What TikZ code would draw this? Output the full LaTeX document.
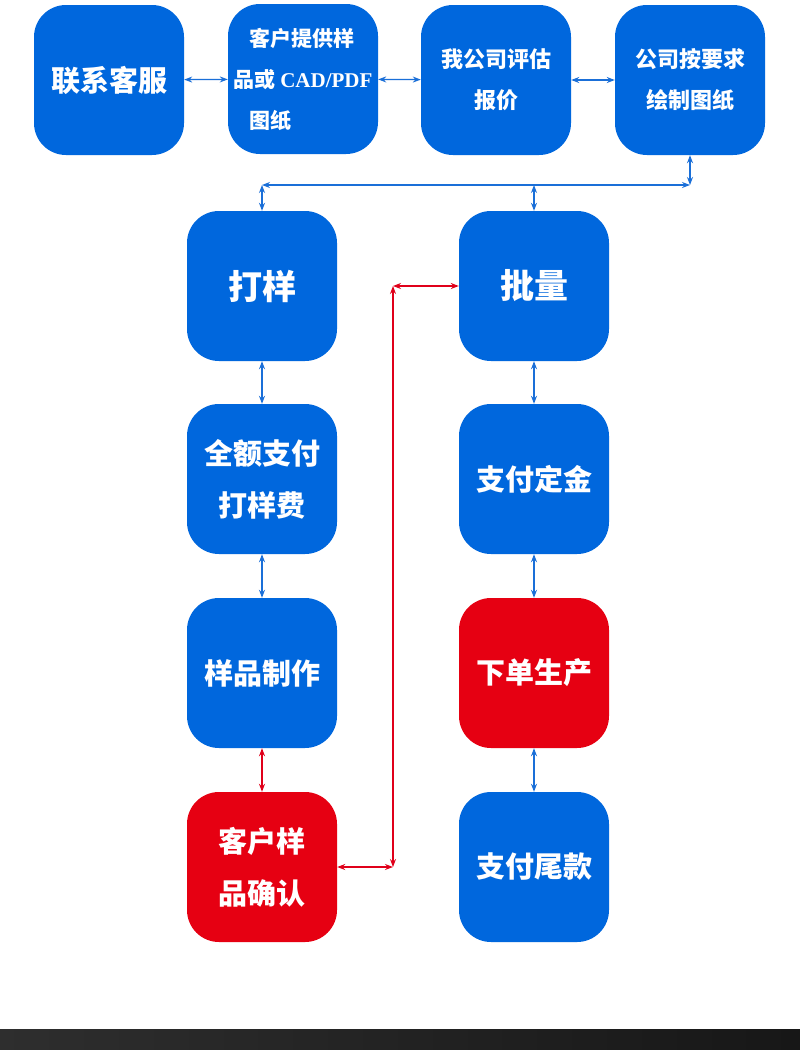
\documentclass[tikz,border=0pt]{standalone}
\usepackage{fontspec}
\newfontfamily\cjk{Noto Sans CJK SC}
\newfontfamily\latinserif{Liberation Serif}
\usetikzlibrary{arrows.meta}
\definecolor{procblue}{HTML}{0067DD}
\definecolor{procred}{HTML}{E60012}
\definecolor{linkblue}{HTML}{1A6FD8}
\definecolor{linkred}{HTML}{E0001A}
\tikzset{
	stepbox/.style={fill=procblue, rounded corners=32pt, minimum width=150pt, minimum height=150pt, inner sep=0pt, text=white, font=\cjk\bfseries, align=center},
	hotbox/.style={stepbox, fill=procred},
	link/.style={draw=linkblue, line width=1.2pt, {Stealth[length=8pt,width=6pt]}-{Stealth[length=8pt,width=6pt]}},
	redlink/.style={link, draw=linkred},
	big/.style={font=\cjk\bfseries\fontsize{29}{52}\selectfont},
}

\begin{document}
\begin{tikzpicture}[x=1pt,y=-1pt]
		
		\fill[white] (0,0) rectangle (800,1050);
		\useasboundingbox (0,0) rectangle (800,1050);
		
		% top row
		\node[stepbox, big] (contact) at (109,80) {联系客服};
		\node[stepbox, align=left, font=\cjk\bfseries\fontsize{21}{41}\selectfont] (provide) at (303,79)
			{\hspace*{16pt}客户提供样\\品或 {\latinserif\bfseries CAD/PDF}\\\hspace*{16pt}图纸};
		\node[stepbox, font=\cjk\bfseries\fontsize{22}{41}\selectfont] (quote) at (496,80) {我公司评估\\报价};
		\node[stepbox, font=\cjk\bfseries\fontsize{22}{41}\selectfont] (drawing) at (690,80) {公司按要求\\绘制图纸};
		
		\draw[link] (contact) -- (provide);
		\draw[link] (provide) -- (quote);
		\draw[link] (quote) -- (drawing);
		
		% left column: sample
		\node[stepbox, font=\cjk\bfseries\fontsize{34}{40}\selectfont] (sample) at (262,286) {打样};
		\node[stepbox, big] (payfull) at (262,479) {全额支付\\打样费};
		\node[stepbox, big] (making) at (262,673) {样品制作};
		\node[hotbox, big] (confirm) at (262,867) {客户样\\品确认};
		
		% right column: bulk
		\node[stepbox, font=\cjk\bfseries\fontsize{34}{40}\selectfont] (bulk) at (534,286) {批量};
		\node[stepbox, big] (deposit) at (534,479) {支付定金};
		\node[hotbox, big] (order) at (534,673) {下单生产};
		\node[stepbox, big] (balance) at (534,867) {支付尾款};
		
		% branch
		\coordinate (jr) at (690,185);
		\coordinate (jl) at (262,185);
		\coordinate (jm) at (534,185);
		\draw[link] (drawing) -- (jr);
		\draw[link] (jr) -- (jl);
		\draw[link] (jl) -- (sample);
		\draw[link] (jm) -- (bulk);
		
		\draw[link] (sample) -- (payfull);
		\draw[link] (payfull) -- (making);
		\draw[redlink] (making) -- (confirm);
		
		\draw[link] (bulk) -- (deposit);
		\draw[link] (deposit) -- (order);
		\draw[link] (order) -- (balance);
		
		% back to bulk
		\coordinate (rb) at (393,867);
		\coordinate (rt) at (393,286);
		\draw[redlink] (confirm) -- (rb);
		\draw[redlink] (rb) -- (rt);
		\draw[redlink] (rt) -- (bulk);
		
		% bottom bar
		\shade[left color=black!82, middle color=black!80, right color=black!91] (0,1029) rectangle (800,1050);
		
		\end{tikzpicture}
\end{document}
